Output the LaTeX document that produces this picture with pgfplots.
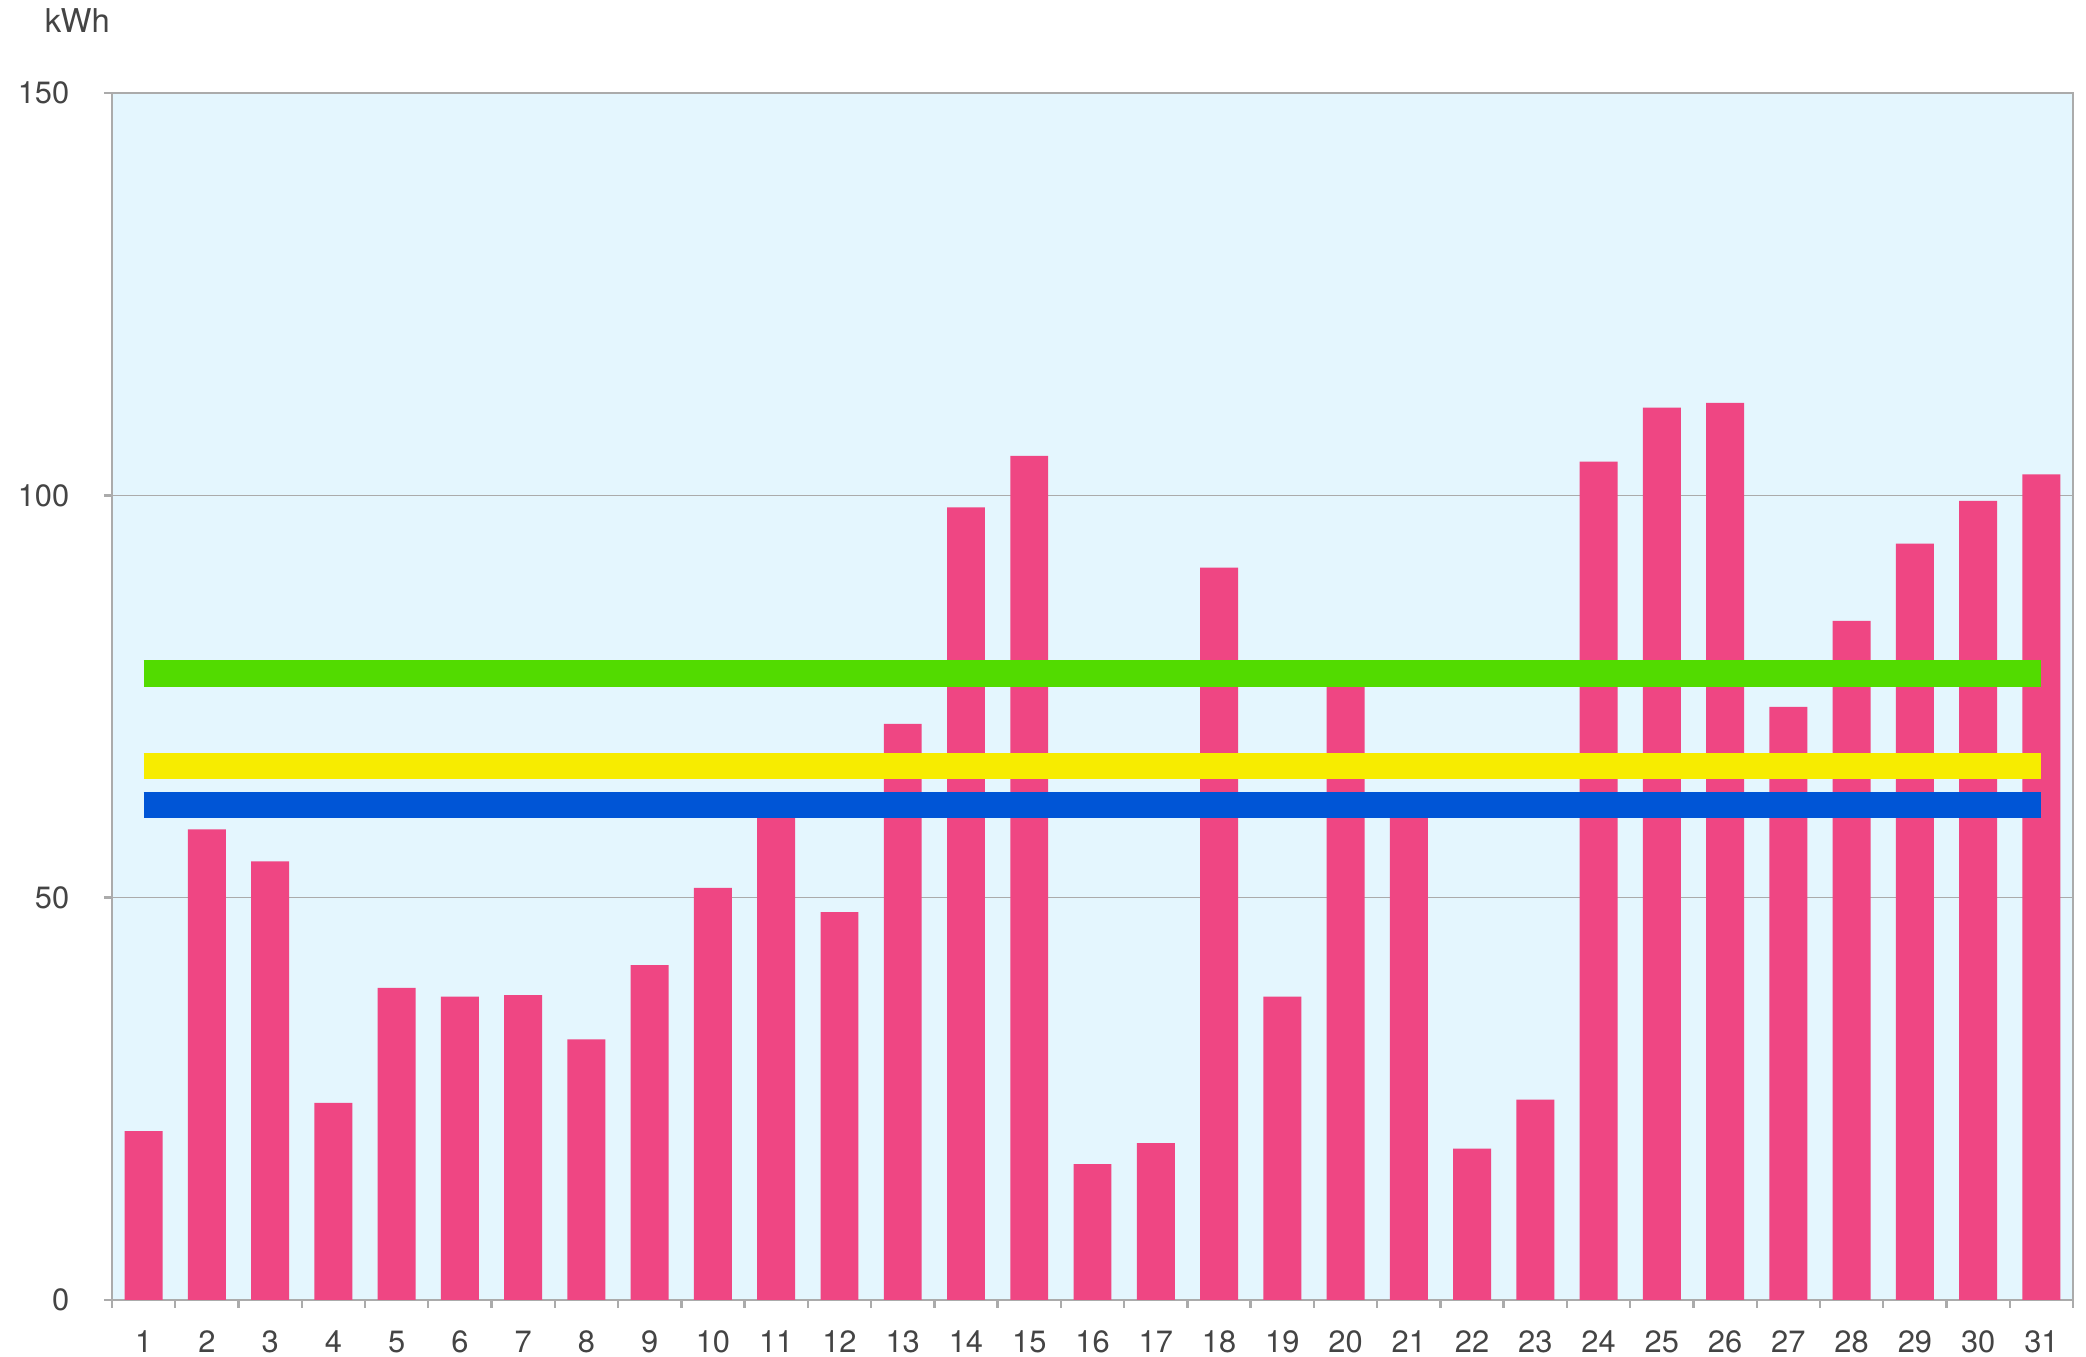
\documentclass[border=0pt]{standalone}
\usepackage{fontspec}
\setmainfont{TeX Gyre Heros}
\usepackage{pgfplots}
\pgfplotsset{compat=1.18}
\usetikzlibrary{calc}
\definecolor{barpink}{HTML}{EF4683}
\definecolor{bgblue}{HTML}{E4F6FE}
\definecolor{lgreen}{HTML}{52DB00}
\definecolor{lyellow}{HTML}{F7EC00}
\definecolor{lblue}{HTML}{0055D6}
\definecolor{axgray}{HTML}{ABABAB}
\definecolor{txtgray}{HTML}{444444}
\begin{document}
\begin{tikzpicture}
\path[use as bounding box] (-28pt,-14.25pt) rectangle (493.5pt,325pt);
\begin{axis}[
  at={(0pt,0pt)}, anchor=south west,
  scale only axis,
  width=490.25pt, height=301.75pt,
  xmin=0.5, xmax=31.5, ymin=0, ymax=150,
  axis background/.style={fill=bgblue},
  axis line style={axgray, line width=0.6pt},
  tick pos=left,
  tick align=outside,
  major tick length=2pt,
  xtick={0.5,1.5,...,31.5},
  xticklabels={},
  extra x ticks={1,...,31},
  extra x tick style={major tick length=0pt,
    xticklabel style={anchor=north, inner sep=0pt, yshift=-7.5pt}},
  ytick={0,50,100,150},
  tick style={axgray, line width=0.6pt},
  ymajorgrids,
  grid style={axgray, line width=0.4pt},
  /pgf/number format/assume math mode=true,
  tick label style={font=\fontsize{7.7}{9}\selectfont, text=txtgray},
  yticklabel style={anchor=east, inner sep=0pt, xshift=-8.5pt},
]
\addplot[ybar, bar width=0.6, fill=barpink, draw=none] coordinates {
(1,21.0) (2,58.5) (3,54.5) (4,24.5) (5,38.8) (6,37.7) (7,37.9) (8,32.4)
(9,41.6) (10,51.2) (11,61.0) (12,48.2) (13,71.6) (14,98.5) (15,104.9)
(16,16.9) (17,19.5) (18,91.0) (19,37.7) (20,77.0) (21,61.0) (22,18.8)
(23,24.9) (24,104.2) (25,110.9) (26,111.5) (27,73.7) (28,84.4) (29,94.0)
(30,99.3) (31,102.6)};
\addplot[sharp plot, lgreen, line width=6.75pt, line cap=butt] coordinates {(1,77.9) (31,77.9)};
\addplot[sharp plot, lyellow, line width=6.5pt, line cap=butt] coordinates {(1,66.4) (31,66.4)};
\addplot[sharp plot, lblue, line width=6.5pt, line cap=butt] coordinates {(1,61.5) (31,61.5)};
\end{axis}
\node[anchor=base west, inner sep=0pt, text=txtgray, font=\fontsize{8.2}{9}\selectfont] at (-17pt,316.75pt) {kWh};
\end{tikzpicture}
\end{document}
